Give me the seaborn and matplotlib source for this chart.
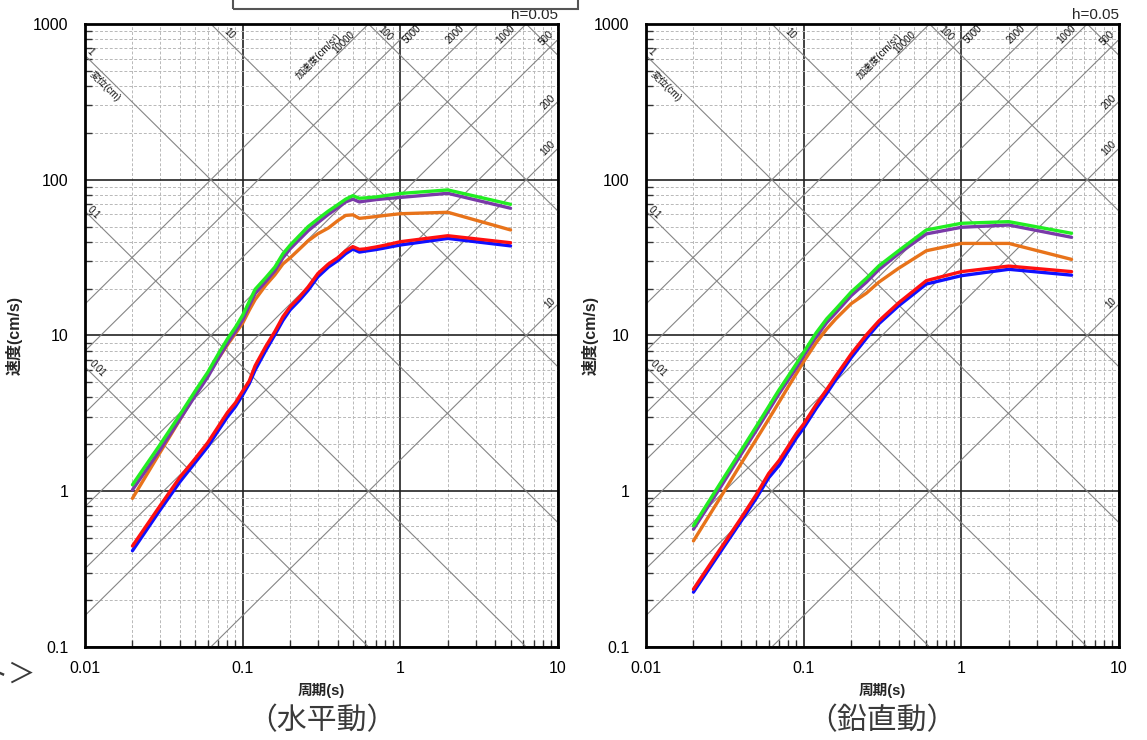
import numpy as np
import pandas as pd
import seaborn as sns
import matplotlib.pyplot as plt
from matplotlib.patches import Rectangle

# horizontal motion (水平動)
period_h = [0.02, 0.03, 0.04, 0.05, 0.06, 0.07, 0.08, 0.09, 0.1, 0.11, 0.12, 0.14, 0.16, 0.18, 0.2,
            0.23, 0.26, 0.3, 0.35, 0.4, 0.45, 0.5, 0.55, 0.6, 0.7, 0.8, 1.0, 2.0, 5.0]
green_h = [1.1, 2.0, 3.1, 4.4, 5.8, 7.6, 9.5, 11.3, 13.5, 16.5, 19.8, 23.5, 27.5, 33.5, 38,
           44, 50, 56, 63, 69, 75, 79, 76, 76.5, 77.5, 79, 81.6, 86, 69.5]
purple_h = [1.02, 1.85, 2.9, 4.1, 5.4, 7.1, 8.9, 10.6, 12.6, 15.5, 18.6, 22.2, 26, 31.5, 36,
            41.5, 47, 53, 60, 66, 72, 75, 72, 73, 74.5, 75.5, 77, 81.8, 65.6]
orange_h = [0.9, 1.78, 2.88, 4.2, 5.6, 7.1, 8.7, 10.3, 12, 14.5, 17, 21, 24.5, 28.8, 31.5,
            36, 40.5, 45, 49, 54.5, 59, 59.5, 56.5, 57, 58, 59, 60.5, 61.8, 47.6]
red_h = [0.445, 0.81, 1.23, 1.62, 2.05, 2.6, 3.2, 3.7, 4.4, 5.1, 6.4, 8.5, 10.6, 13.2, 15.3,
         17.7, 20.5, 25, 28.8, 31.5, 35, 37.2, 35.7, 36, 37, 38, 40, 43.7, 39.4]
blue_h = [0.415, 0.76, 1.15, 1.53, 1.93, 2.45, 3.0, 3.5, 4.15, 4.9, 6.0, 8.0, 10.1, 12.5, 14.6,
          16.9, 19.5, 23.8, 27.5, 30.2, 33.5, 35.9, 34.3, 34.8, 35.6, 36.5, 38.1, 42, 37.6]

# vertical motion (鉛直動)
period_v = [0.02, 0.03, 0.04, 0.05, 0.06, 0.07, 0.08, 0.09, 0.1, 0.12, 0.14, 0.16, 0.2,
            0.25, 0.3, 0.4, 0.6, 1.0, 2.0, 5.0]
green_v = [0.6, 1.15, 1.82, 2.6, 3.5, 4.5, 5.5, 6.6, 7.8, 10.4, 12.8, 14.8, 19,
           23.3, 28, 35, 47.6, 52.5, 53.8, 45.3]
purple_v = [0.57, 1.08, 1.72, 2.45, 3.3, 4.25, 5.2, 6.2, 7.4, 9.8, 12.1, 14, 18,
            22, 26.5, 33.5, 44.9, 49.5, 51.2, 42.7]
orange_v = [0.48, 0.93, 1.5, 2.15, 2.9, 3.75, 4.7, 5.7, 6.8, 9.0, 11, 12.8, 16,
            18.7, 22, 27, 35, 39, 39, 30.8]
red_v = [0.235, 0.435, 0.67, 0.95, 1.3, 1.58, 1.95, 2.35, 2.7, 3.6, 4.5, 5.5, 7.6,
         10.1, 12.4, 16.2, 22.5, 25.7, 27.9, 25.7]
blue_v = [0.225, 0.415, 0.64, 0.9, 1.22, 1.47, 1.82, 2.2, 2.55, 3.4, 4.25, 5.2, 7.2,
          9.6, 11.9, 15.5, 21.4, 24.2, 26.6, 24.4]

# tripartite guide lines
acc_levels = [10, 100, 200, 500, 1000, 2000, 5000, 10000]     # cm/s2
disp_levels = [0.01, 0.1, 1, 10, 100, 1000]                   # cm

x_ticks = [0.01, 0.1, 1, 10]
x_labels = ['0.01', '0.1', '1', '10']
y_ticks = [0.1, 1, 10, 100, 1000]
y_labels = ['0.1', '1', '10', '100', '1000']

# (text, period, velocity, rotation)
guide_labels = [
    ('10', 0.082, 863, -45), ('100', 0.80, 863, -45), ('1', 0.0108, 664, -45),
    ('変位(cm)', 0.0133, 400, -45), ('0.1', 0.0113, 61.5, -45), ('0.01', 0.0119, 6.1, -45),
    ('10000', 0.44, 766, 45), ('加速度(cm/s²)', 0.30, 623, 45), ('5000', 1.19, 863, 45),
    ('2000', 2.22, 863, 45), ('1000', 4.68, 863, 45), ('500', 8.4, 813, 45),
    ('200', 8.65, 316, 45), ('100', 8.65, 160, 45), ('10', 8.9, 16.2, 45),
]

series_order = ['blue', 'red', 'orange', 'purple', 'green']
palette = {'green': '#22ee22', 'purple': '#7a3aa8', 'orange': '#e8731a',
           'red': '#ff1010', 'blue': '#1010ff'}


def long_frame(period, cols):
    rows = []
    for name, vals in cols.items():
        for p, v in zip(period, vals):
            rows.append({'period': p, 'vel': v, 'series': name})
    return pd.DataFrame(rows)


df_h = long_frame(period_h, {'green': green_h, 'purple': purple_h, 'orange': orange_h,
                             'red': red_h, 'blue': blue_h})
df_v = long_frame(period_v, {'green': green_v, 'purple': purple_v, 'orange': orange_v,
                             'red': red_v, 'blue': blue_v})

sns.set_theme(style='white')
plt.rcParams['font.family'] = ['Liberation Sans', 'Noto Sans CJK JP', 'DejaVu Sans']

fig = plt.figure(figsize=(11.47, 7.40), dpi=100)
ax_h = fig.add_axes([0.0741, 0.1257, 0.4124, 0.8419])
ax_v = fig.add_axes([0.5632, 0.1257, 0.4124, 0.8419])


def setup(ax, df, ylab_x):
    T = np.logspace(-2, 1, 200)
    for a in acc_levels:
        ax.plot(T, a * T / (2 * np.pi), color='#858585', lw=0.8, zorder=2)
    for d in disp_levels:
        ax.plot(T, 2 * np.pi * d / T, color='#858585', lw=0.8, zorder=2)

    sns.lineplot(data=df, x='period', y='vel', hue='series', hue_order=series_order,
                 palette=palette, linewidth=2.4, legend=False, estimator=None,
                 ax=ax, zorder=5)

    ax.set_xscale('log')
    ax.set_yscale('log')
    ax.set_xlim(0.01, 10)
    ax.set_ylim(0.1, 1000)
    ax.set_xticks(x_ticks, x_labels)
    ax.set_yticks(y_ticks, y_labels)
    ax.xaxis.set_minor_locator(plt.LogLocator(base=10, subs=np.arange(2, 10)))
    ax.yaxis.set_minor_locator(plt.LogLocator(base=10, subs=np.arange(2, 10)))
    ax.xaxis.set_minor_formatter(plt.NullFormatter())
    ax.yaxis.set_minor_formatter(plt.NullFormatter())
    ax.grid(which='minor', color='#b8b8b8', ls=(0, (3, 2)), lw=0.7, zorder=1)
    ax.grid(which='major', color='#222222', ls='-', lw=1.2, zorder=3)
    ax.tick_params(which='major', length=0, labelsize=11.5, colors='black')
    ax.tick_params(axis='x', which='major', pad=10)
    ax.tick_params(axis='y', which='major', pad=12)
    ax.tick_params(which='minor', direction='in', length=5, width=1, color='#333333',
                   left=True, bottom=True)
    for s in ax.spines.values():
        s.set_linewidth(2)
        s.set_color('black')
        s.set_zorder(6)

    for txt, p, v, rot in guide_labels:
        ax.text(p, v, txt, fontsize=7, rotation=rot, ha='center', va='center',
                rotation_mode='anchor', color='#111111', zorder=4)

    ax.text(1.0, 1.003, 'h=0.05', transform=ax.transAxes, ha='right', va='bottom',
            fontsize=11)
    ax.set_xlabel('周期(s)', fontsize=10.5, fontweight='bold')
    ax.set_ylabel('速度(cm/s)', fontsize=11.5, fontweight='bold')
    ax.xaxis.set_label_coords(0.5, -0.058)
    ax.yaxis.set_label_coords(ylab_x, 0.5)


setup(ax_h, df_h, -0.131)
setup(ax_v, df_v, -0.101)

fig.text(0.281, 0.026, '（水平動）', ha='center', va='center', fontsize=21.5, color='#3a3a3a')
fig.text(0.769, 0.026, '（鉛直動）', ha='center', va='center', fontsize=21.5, color='#3a3a3a')
fig.text(-0.017, 0.088, 'ト＞', ha='left', va='center', fontsize=20, color='#3a3a3a',
         family=['Noto Sans CJK JP', 'DejaVu Sans'])

fig.patches.append(Rectangle((0.203, 0.9885), 0.301, 0.05, transform=fig.transFigure,
                             fill=False, edgecolor='#555555', lw=1.5))

fig.savefig('out.png', dpi=100)
